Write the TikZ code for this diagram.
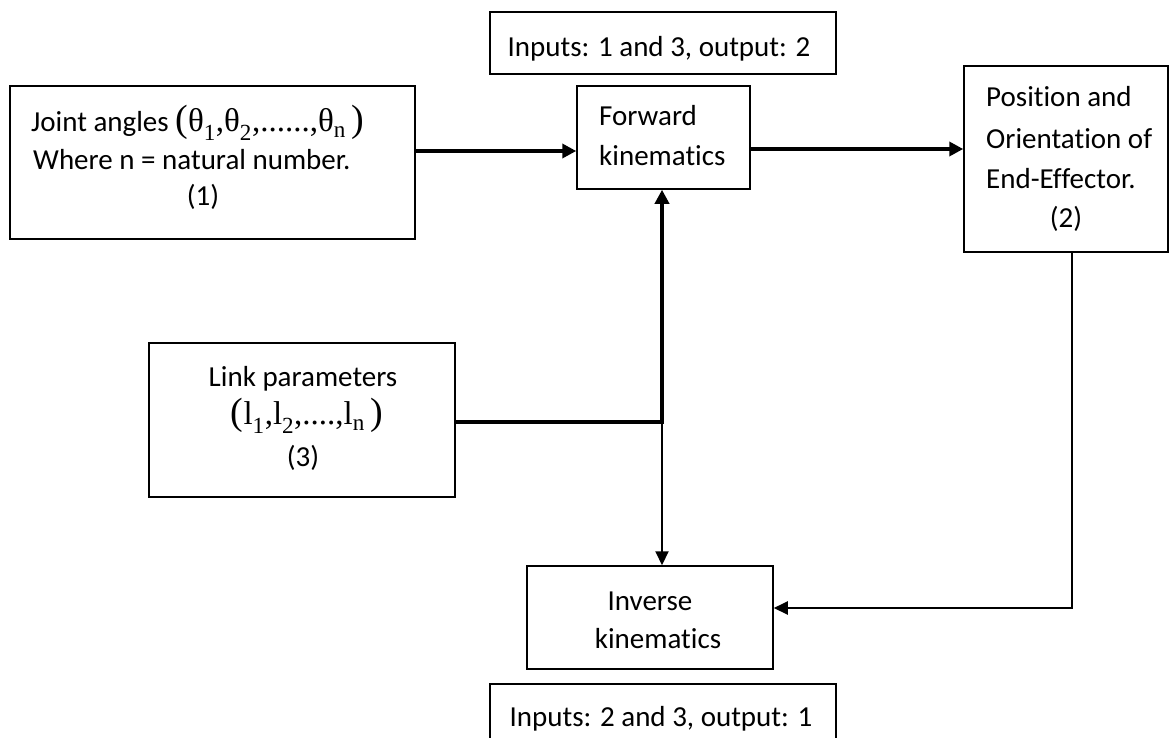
\documentclass[tikz,border=0pt]{standalone}
\usepackage{graphicx}
\usepackage{fontspec}
\setmainfont{Carlito}[Ligatures={NoCommon}]
\newfontfamily\tms{Liberation Serif}
\usetikzlibrary{arrows.meta}
\newcommand\bp[1]{{\fontsize{38}{38}\selectfont #1}}
\newcommand\sbs[1]{\raisebox{-3pt}{\textsubscript{#1}}}
\begin{document}
\begin{tikzpicture}[x=1pt,y=-1pt,
  box/.style={draw,line width=1.5pt,inner sep=0pt},
  lbl/.style={inner sep=0pt,text height=24pt,text depth=4pt,font=\fontsize{29}{35}\selectfont},
  thickarrow/.style={line width=4pt,-{Triangle[length=14pt,width=14pt]}},
  thinarrow/.style={line width=2pt,-{Triangle[length=14pt,width=13pt]}},
]
\useasboundingbox (0,0) rectangle (1174,737);
\clip (0,0) rectangle (1174,737);
% boxes
\node[box,minimum width=405pt,minimum height=153pt] (jnt) at (212.5,162.5) {};
\node[box,minimum width=173pt,minimum height=103pt] (fk) at (663.5,137.5) {};
\node[box,minimum width=346pt,minimum height=62pt] (topnote) at (663,43) {};
\node[box,minimum width=204pt,minimum height=186pt] (pos) at (1066,159) {};
\node[box,minimum width=306pt,minimum height=154pt] (link) at (302,420) {};
\node[box,minimum width=246pt,minimum height=103pt] (inv) at (650,617.5) {};
\node[box,minimum width=346pt,minimum height=62pt] (botnote) at (663,715) {};
% texts
\node[lbl] (t1) at (659,46) {Inputs: 1 and 3, output: 2};
\node[lbl] (t2) at (661,716) {Inputs: 2 and 3, output: 1};
\node[lbl,anchor=west] (fk1) at (599,115) {Forward};
\node[lbl,anchor=west] (fk2) at (599,155) {kinematics};
\node[lbl] (iv1) at (650,600) {Inverse};
\node[lbl] (iv2) at (658,638) {kinematics};
\node[lbl,anchor=west] (p1) at (986,96) {Position and};
\node[lbl,anchor=west] (p2) at (986,138) {Orientation of};
\node[lbl,anchor=west] (p3) at (986,178) {End-Effector.};
\node[lbl] (p4) at (1066,217) {(2)};
\node[lbl,anchor=west] (j1) at (31,121) {Joint angles {\tms\fontsize{33}{33}\selectfont\bp{(}θ\sbs{1},θ\sbs{2},......,θ\sbs{n}\,\bp{)}}};
\node[lbl,anchor=west] (j2) at (33,159) {Where n = natural number.};
\node[lbl] (j3) at (203,195) {(1)};
\node[lbl] (l1) at (303,376) {Link parameters};
\node[lbl] (l2) at (307,414) {\tms\fontsize{33}{33}\selectfont\bp{(}l\sbs{1},l\sbs{2},....,l\sbs{n}\,\bp{)}};
\node[lbl] (l3) at (303,456) {(3)};
% connectors
\coordinate (r1) at (500,151);
\coordinate (r2) at (850,149);
\coordinate (j) at (662,422);
\coordinate (c) at (1072,608);
\draw[thickarrow] (jnt.east |- r1) -- (fk.west |- r1);
\draw[thickarrow] (fk.east |- r2) -- (pos.west |- r2);
\draw[thickarrow] (link.east |- j) -- (j) -- (fk.south -| j);
\draw[thinarrow] (j) -- (inv.north -| j);
\draw[thinarrow] (pos.south -| c) -- (c) -- (inv.east |- c);
\end{tikzpicture}
\end{document}
